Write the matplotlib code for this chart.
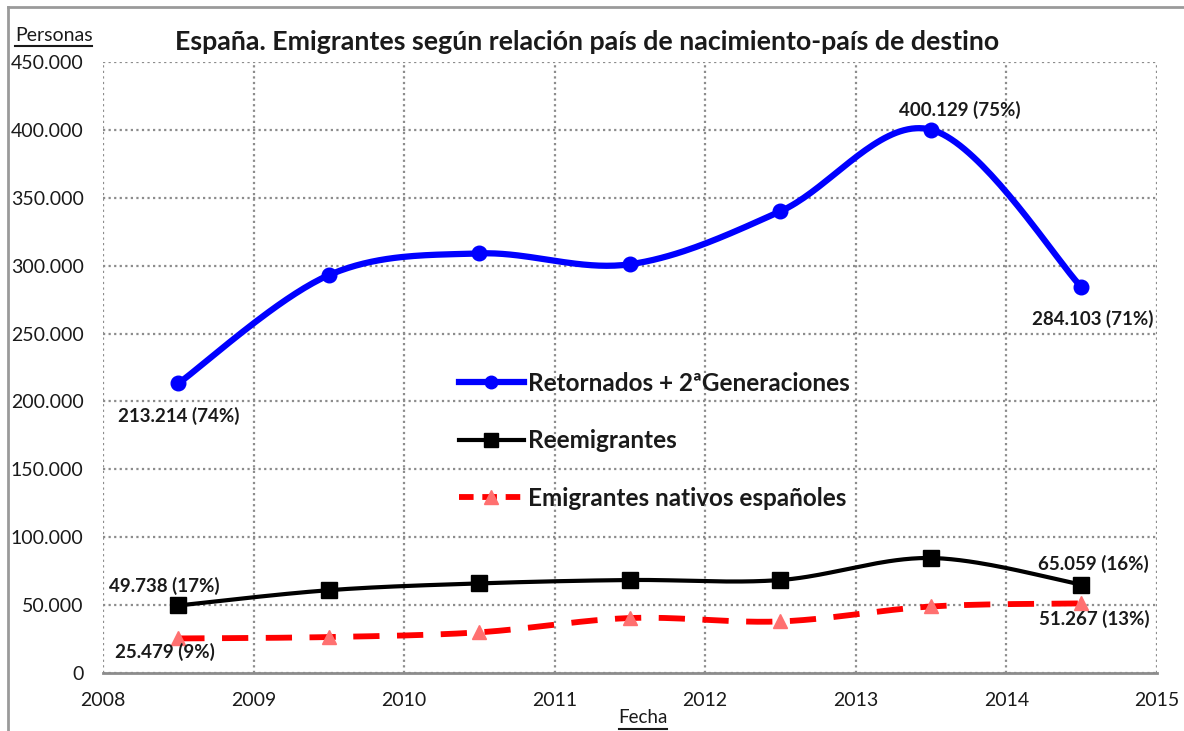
import numpy as np
import matplotlib
matplotlib.use("Agg")
import matplotlib.pyplot as plt
from matplotlib.ticker import FuncFormatter
from matplotlib.lines import Line2D

plt.rcParams['font.family'] = ['Lato', 'DejaVu Sans']

# ---- data ----
years = [2008.5, 2009.5, 2010.5, 2011.5, 2012.5, 2013.5, 2014.5]
retornados = [213214, 293000, 309000, 301000, 340000, 400129, 284103]
reemigrantes = [49738, 61000, 66000, 68500, 68500, 84700, 65059]
nativos = [25479, 26500, 30000, 40500, 38000, 49000, 51267]
series_names = ["Retornados + 2ªGeneraciones", "Reemigrantes", "Emigrantes nativos españoles"]
x_ticks = [2008, 2009, 2010, 2011, 2012, 2013, 2014, 2015]
y_ticks = [0, 50000, 100000, 150000, 200000, 250000, 300000, 350000, 400000, 450000]
labels = [
    # (series idx, point idx, text, dx px, dy px)
    (0, 0, "213.214 (74%)", 0, -32),
    (0, 5, "400.129 (75%)", 29, 20),
    (0, 6, "284.103 (71%)", 11, -32),
    (1, 0, "49.738 (17%)", -14, 20),
    (1, 6, "65.059 (16%)", 12, 21),
    (2, 0, "25.479 (9%)", -13, -14),
    (2, 6, "51.267 (13%)", 13, -16),
]


def smooth(xs, ys, n=40):
    xs = np.asarray(xs, float)
    ys = np.asarray(ys, float)
    P = np.column_stack([xs, ys])
    out = []
    for i in range(len(P) - 1):
        p0 = P[i - 1] if i > 0 else P[i]
        p1 = P[i]
        p2 = P[i + 1]
        p3 = P[i + 2] if i + 2 < len(P) else P[i + 1]
        c1 = p1 + (p2 - p0) / 6.0
        c2 = p2 - (p3 - p1) / 6.0
        t = np.linspace(0, 1, n)[:, None]
        seg = ((1 - t) ** 3) * p1 + 3 * ((1 - t) ** 2) * t * c1 + 3 * (1 - t) * t ** 2 * c2 + t ** 3 * p2
        out.append(seg if i == 0 else seg[1:])
    s = np.vstack(out)
    return s[:, 0], s[:, 1]


fig = plt.figure(figsize=(11.84, 7.31), dpi=100)
# outer chart frame (left and top edges visible)
fig.add_artist(Line2D([0.0065, 0.0065], [0.0, 0.991], transform=fig.transFigure, color='#9a9a9a', lw=2))
fig.add_artist(Line2D([0.0065, 1.0], [0.991, 0.991], transform=fig.transFigure, color='#9a9a9a', lw=2))

ax = fig.add_axes([0.087, 0.0793, 0.890, 0.836])

ax.set_xlim(2008, 2015)
ax.set_ylim(0, 450000)
ax.set_xticks(x_ticks)
ax.set_yticks(y_ticks)
ax.yaxis.set_major_formatter(FuncFormatter(lambda v, p: f"{int(v):,}".replace(",", ".")))
ax.xaxis.set_major_formatter(FuncFormatter(lambda v, p: f"{int(v)}"))
ax.tick_params(axis='both', length=0, labelsize=14, colors='#1a1a1a')
ax.tick_params(axis='x', pad=14)
ax.tick_params(axis='y', pad=14)
ax.grid(True, color='#8c8c8c', linestyle=(0, (1, 1.5)), linewidth=1.6)
for s in ['left', 'top', 'right']:
    ax.spines[s].set_visible(False)
ax.spines['bottom'].set_color('#8c8c8c')
ax.spines['bottom'].set_linewidth(2)
ax.set_axisbelow(True)

# series
xs, ys = smooth(years, nativos)
ax.plot(xs, ys, color='#ff0000', lw=4.2, ls=(0, (4.5, 3)), zorder=3)
ax.plot(years, nativos, ls='none', marker='^', ms=10, mfc='#ff7070', mec='#ff7070', zorder=4)

xs, ys = smooth(years, reemigrantes)
ax.plot(xs, ys, color='black', lw=3, zorder=3)
ax.plot(years, reemigrantes, ls='none', marker='s', ms=11, color='black', zorder=4)

xs, ys = smooth(years, retornados)
ax.plot(xs, ys, color='#0000ff', lw=4.5, zorder=3)
ax.plot(years, retornados, ls='none', marker='o', ms=10.5, color='#0000ff', zorder=4)

series = [retornados, reemigrantes, nativos]
for si, pi, txt, dx, dy in labels:
    ax.annotate(txt, (years[pi], series[si][pi]), xytext=(dx, dy), textcoords='offset pixels',
                ha='center', va='center', fontsize=13.5, fontweight='bold', color='#1a1a1a', zorder=5)

handles = [
    Line2D([], [], color='#0000ff', lw=4.5, marker='o', ms=9),
    Line2D([], [], color='black', lw=3, marker='s', ms=10),
    Line2D([], [], color='#ff0000', lw=4.2, ls=(0, (2.5, 1.5)), marker='^', ms=10, mfc='#ff7070', mec='#ff7070'),
]
leg = fig.legend(handles, series_names, loc='upper left', bbox_to_anchor=(0.373, 0.515),
                 frameon=False, fontsize=17.5, handlelength=2.7, handletextpad=0.15, labelspacing=1.42,
                 borderpad=0.2)
for t in leg.get_texts():
    t.set_fontweight('bold')
    t.set_color('#1a1a1a')

fig.text(0.496, 0.943, "España. Emigrantes según relación país de nacimiento-país de destino",
         ha='center', va='center', fontsize=19.3, fontweight='bold', color='#1a1a1a')
fig.text(0.0125, 0.951, "Personas", ha='left', va='center', fontsize=14, color='#1a1a1a')
fig.add_artist(Line2D([0.0125, 0.078], [0.937, 0.937], transform=fig.transFigure, color='#1a1a1a', lw=1.5))
fig.text(0.543, 0.018, "Fecha", ha='center', va='center', fontsize=13.5, color='#1a1a1a')
fig.add_artist(Line2D([0.523, 0.563], [0.003, 0.003], transform=fig.transFigure, color='#1a1a1a', lw=1.5))

fig.savefig("out.png", dpi=100)
